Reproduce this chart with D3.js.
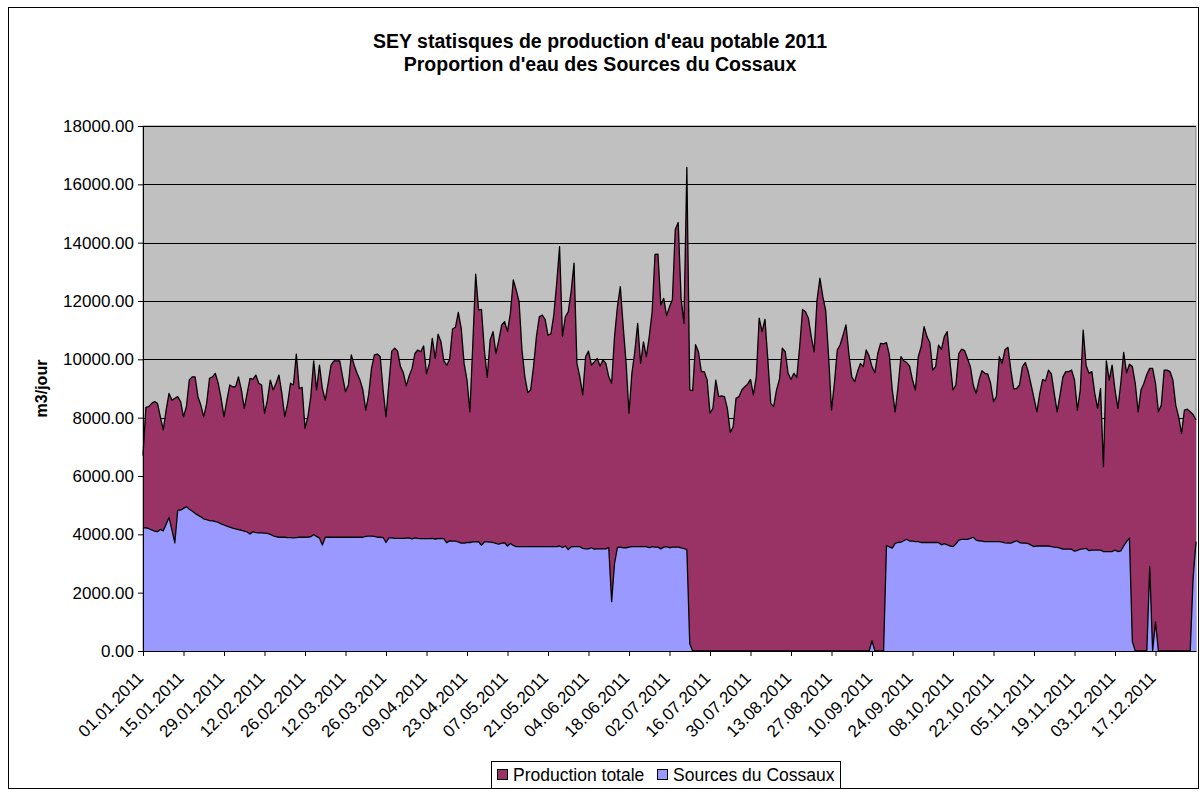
<!DOCTYPE html>
<html><head><meta charset="utf-8">
<script src="https://cdn.jsdelivr.net/npm/d3@7"></script>
<style>body{margin:0;background:#fff}svg{display:block}text{font-family:"Liberation Sans",Arial,sans-serif}</style>
</head><body><svg id="c" width="1200" height="792"></svg>
<script>
const titleLines = ["SEY statisques de production d'eau potable 2011", "Proportion d'eau des Sources du Cossaux"];
const yTitle = "m3/jour";
const seriesNames = ["Production totale", "Sources du Cossaux"];
const tickLabels = ["01.01.2011","15.01.2011","29.01.2011","12.02.2011","26.02.2011","12.03.2011","26.03.2011","09.04.2011","23.04.2011","07.05.2011","21.05.2011","04.06.2011","18.06.2011","02.07.2011","16.07.2011","30.07.2011","13.08.2011","27.08.2011","10.09.2011","24.09.2011","08.10.2011","22.10.2011","05.11.2011","19.11.2011","03.12.2011","17.12.2011"];
const yTicks = [0,2000,4000,6000,8000,10000,12000,14000,16000,18000];
// daily values, 01.01.2011 .. 31.12.2011
const productionTotale = [
6700,8350,8380,8490,8550,8490,8030,7580,8260,8830,
8600,8660,8720,8550,8030,8380,9290,9400,9400,8720,
8430,8030,8490,9350,9400,9520,9180,8660,8030,8600,
9120,9060,9060,9400,8950,8320,8830,9350,9310,9460,
9180,9120,8150,8600,9290,8950,9180,9460,8830,8030,
8490,9180,9120,10180,9000,9040,7630,8030,8720,9950,
8950,9800,9000,8600,9180,9800,9950,9950,9950,9400,
8890,9120,10150,9800,9520,9290,8950,8260,8780,9690,
10150,10180,10090,8950,8030,9180,10280,10380,10280,9750,
9540,9090,9430,9690,10200,10320,10260,10460,9500,9860,
10720,10030,10860,10600,9950,9800,10000,11040,11100,11610,
11060,9860,9290,8200,10500,12920,11690,11710,10320,9380,
10660,10950,10200,10660,11180,11290,10950,11580,12720,12380,
11980,10320,9400,8860,8950,9750,10780,11460,11520,11370,
10830,10870,11520,12600,13860,10780,11460,11630,12320,13300,
9860,9400,8780,10090,10280,9800,9910,10030,9770,9980,
9860,9400,9180,10780,11810,12490,11120,9860,8150,9520,
10260,11230,9860,10600,10090,10780,11630,13600,13610,11860,
12090,11500,11800,12040,14450,14690,12100,11230,16580,8950,
8930,10500,10260,9580,9580,9300,8150,8320,9290,8720,
8750,8720,8320,7490,7690,8660,8720,8950,9060,9150,
9310,8780,9400,11410,10950,11370,9980,8490,8380,8950,
9310,10380,10260,9520,9310,9520,9380,10430,11710,11630,
11410,10780,10260,12030,12780,12150,11670,10090,8260,9180,
10320,10500,10830,11180,10200,9400,9230,9580,9860,9750,
10320,10110,9750,9540,10200,10550,10530,10570,10150,8950,
8200,9060,10090,9950,9890,9770,9290,8950,10090,10430,
11120,10780,10570,9630,9750,10490,10340,10780,10950,9860,
8950,9120,10200,10350,10300,10030,9750,9120,8830,9290,
9610,9520,9500,9180,8550,8720,10090,9860,10340,10410,
9630,8990,9000,9120,9750,9890,9580,9120,8660,8200,
8830,9310,9260,9630,9500,8830,8200,8780,9400,9580,
9580,9630,9290,8260,8950,11000,9800,9520,9580,8830,
8320,9000,6320,9950,9290,9800,8950,8320,9180,10240,
9540,9830,9750,9180,8200,8950,9180,9480,9690,9690,
9180,8200,8430,9630,9630,9580,9290,8430,8030,7460,
8260,8290,8200,8110,7920];
const sourcesCossaux = [
4220,4220,4200,4150,4110,4090,4170,4120,4350,4580,
4150,3710,4830,4830,4890,4950,4860,4800,4720,4660,
4600,4530,4500,4470,4460,4440,4410,4360,4320,4280,
4250,4210,4190,4160,4140,4110,4080,4010,4090,4060,
4050,4050,4040,4030,4000,3950,3920,3900,3900,3900,
3890,3890,3880,3890,3900,3900,3900,3900,3920,3990,
3930,3870,3630,3900,3900,3900,3900,3900,3900,3900,
3900,3900,3900,3900,3900,3900,3900,3930,3940,3940,
3930,3900,3900,3890,3720,3880,3880,3860,3860,3860,
3860,3870,3880,3840,3880,3860,3850,3850,3850,3850,
3860,3840,3850,3860,3850,3710,3780,3770,3770,3740,
3700,3700,3720,3720,3740,3740,3750,3620,3740,3740,
3730,3720,3690,3660,3700,3710,3600,3690,3620,3580,
3580,3580,3580,3580,3580,3580,3580,3580,3580,3580,
3580,3580,3580,3580,3600,3550,3600,3480,3570,3580,
3580,3580,3520,3500,3500,3540,3490,3500,3500,3500,
3500,3550,1690,3000,3550,3560,3540,3540,3560,3580,
3580,3580,3580,3580,3580,3540,3580,3560,3560,3500,
3560,3580,3540,3560,3560,3560,3540,3510,3480,250,
0,0,0,0,0,0,0,0,0,0,
0,0,0,0,0,0,0,0,0,0,
0,0,0,0,0,0,0,0,0,0,
0,0,0,0,0,0,0,0,0,0,
0,0,0,0,0,0,0,0,0,0,
0,0,0,0,0,0,0,0,0,0,
0,0,350,0,0,0,0,3610,3570,3530,
3690,3720,3730,3780,3830,3770,3770,3750,3750,3720,
3720,3720,3720,3720,3720,3720,3640,3680,3640,3600,
3580,3670,3800,3830,3830,3830,3860,3900,3800,3780,
3770,3750,3750,3750,3750,3750,3750,3730,3710,3700,
3700,3740,3780,3720,3700,3700,3680,3630,3580,3600,
3600,3600,3600,3600,3580,3560,3550,3530,3490,3490,
3490,3490,3420,3450,3490,3500,3520,3440,3460,3460,
3460,3460,3410,3410,3410,3410,3460,3410,3430,3600,
3750,3870,320,0,0,0,0,0,2890,0,
1000,0,0,0,0,0,0,0,0,0,
0,0,0,2500,3750];
const tickDays = tickLabels.map((_, i) => i * 14);
const colors = ["#993366", "#9999FF"];
const FONT = "Liberation Sans, Arial, sans-serif";

const svg = d3.select("#c");
svg.append("rect").attr("x",0).attr("y",0).attr("width",1200).attr("height",792).attr("fill","#fff");
svg.append("rect").attr("x",8.5).attr("y",7.5).attr("width",1190).attr("height",781).attr("fill","none").attr("stroke","#000").attr("stroke-width",1);

const L = 143, R = 1196, T = 126, B = 651;
const x = d3.scaleLinear().domain([0, productionTotale.length - 1]).range([L, R]);
const y = d3.scaleLinear().domain([0, 18000]).range([B, T]);

svg.append("rect").attr("x",L).attr("y",T).attr("width",R-L).attr("height",B-T).attr("fill","#C0C0C0").attr("stroke","#808080");

svg.append("g").selectAll("line").data(yTicks.filter(v=>v>0)).join("line")
  .attr("x1",L).attr("x2",R).attr("y1",d=>Math.round(y(d))+0.5).attr("y2",d=>Math.round(y(d))+0.5)
  .attr("stroke","#000").attr("stroke-width",1);

const areaGen = d3.area().x((d,i)=>x(i)).y0(y(0)).y1(d=>y(d));
const lineGen = d3.line().x((d,i)=>x(i)).y(d=>y(d));
[productionTotale, sourcesCossaux].forEach((s, k) => {
  svg.append("path").datum(s).attr("d", areaGen).attr("fill", colors[k]);
  svg.append("path").datum(s).attr("d", lineGen).attr("fill","none").attr("stroke","#000").attr("stroke-width",1.3).attr("stroke-linejoin","round");
});

const yAxis = d3.axisLeft(y).tickValues(yTicks).tickFormat(d3.format(".2f")).tickSize(5).tickPadding(4);
const gy = svg.append("g").attr("transform",`translate(${L},0)`).call(yAxis);
gy.select(".domain").attr("stroke","#000");
gy.selectAll("text").attr("font-size",17).attr("fill","#000").attr("font-family",FONT);

const xAxis = d3.axisBottom(x).tickValues(tickDays).tickFormat((d,i)=>tickLabels[i]).tickSize(5).tickSizeOuter(0);
const gx = svg.append("g").attr("transform",`translate(0,${B})`).call(xAxis);
gx.select(".domain").attr("stroke","#000");
gx.selectAll("text").attr("font-size",17).attr("fill","#000").attr("font-family",FONT)
  .attr("text-anchor","end").attr("dy",null).attr("y",0)
  .attr("transform","translate(1,28) rotate(-45)");

svg.append("g").selectAll("text").data(titleLines).join("text")
  .attr("x",600).attr("y",(d,i)=>48+i*23).attr("text-anchor","middle")
  .attr("font-size",19.5).attr("font-weight","bold").text(d=>d);
svg.append("text").attr("transform",`translate(47,${(T+B)/2}) rotate(-90)`).attr("text-anchor","middle")
  .attr("font-size",16).attr("font-weight","bold").text(yTitle);

const lg = svg.append("g");
lg.append("rect").attr("x",491.5).attr("y",761.5).attr("width",349).attr("height",27).attr("fill","#fff").attr("stroke","#000");
const lgX = [497, 657];
seriesNames.forEach((n,k)=>{
  lg.append("rect").attr("x",lgX[k]+0.5).attr("y",769.5).attr("width",10).attr("height",10).attr("fill",colors[k]).attr("stroke","#000");
  lg.append("text").attr("x",lgX[k]+16).attr("y",781).attr("font-size",17.5).text(n);
});
</script></body></html>
